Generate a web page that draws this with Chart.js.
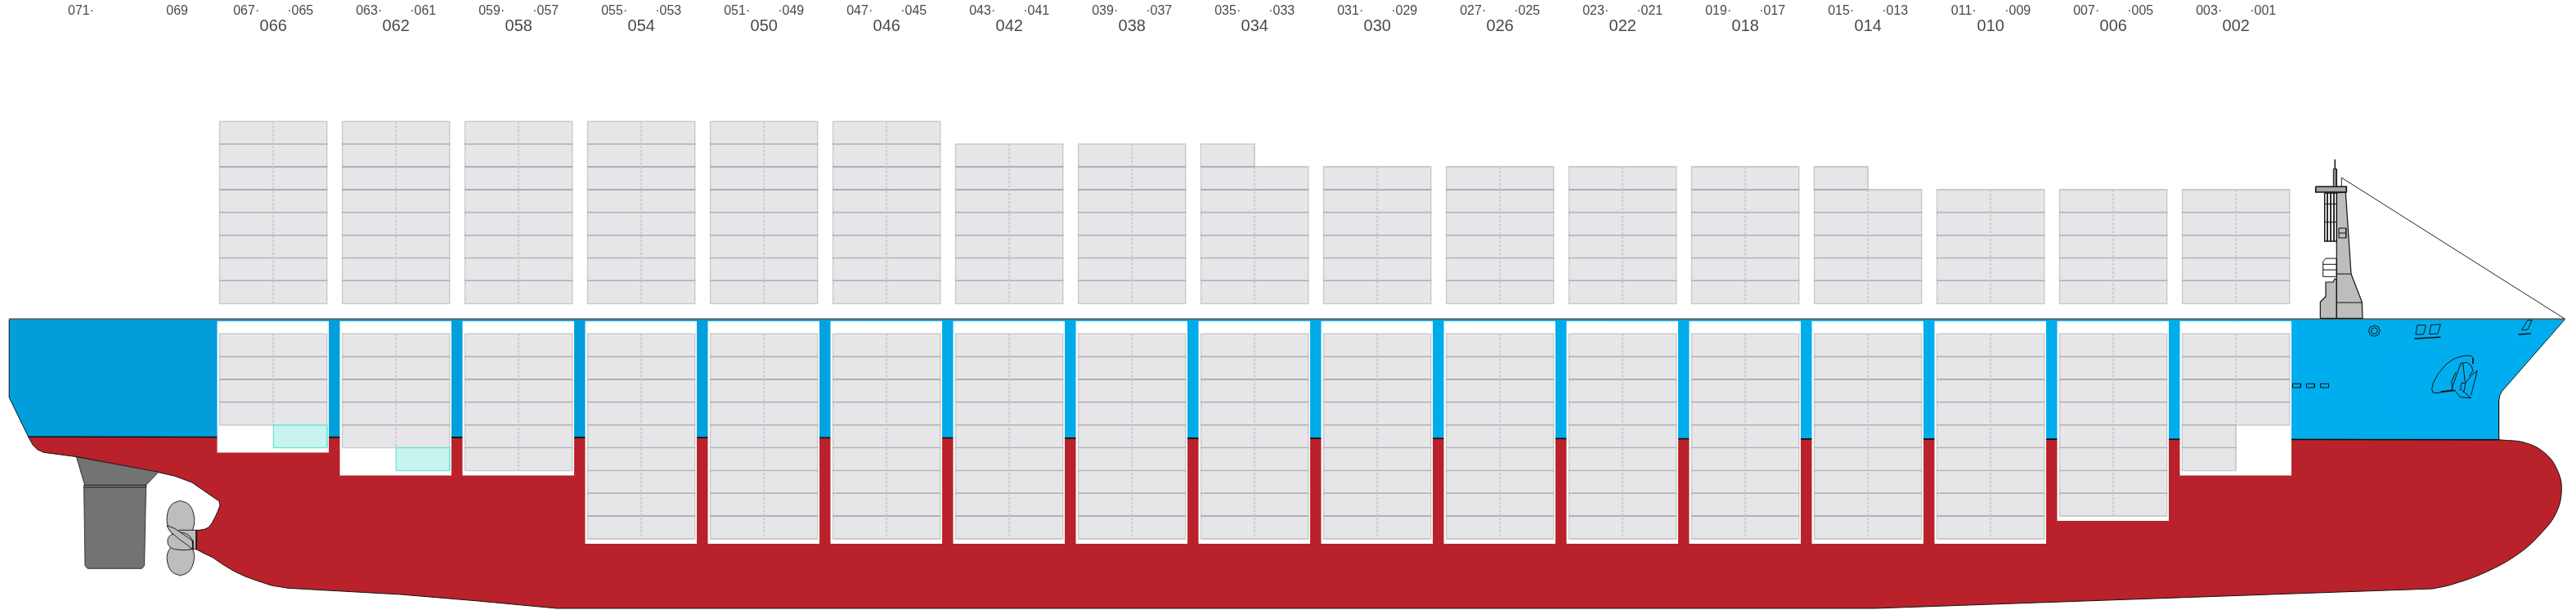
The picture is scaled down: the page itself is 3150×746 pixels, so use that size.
<!DOCTYPE html>
<html>
<head>
<meta charset="utf-8">
<title>Plano de carga</title>
<script src="https://cdn.jsdelivr.net/npm/chart.js@4/dist/chart.umd.min.js"></script>
<style>
  html, body { margin: 0; padding: 0; background: #fff; }
  canvas { display: block; }
</style>
</head>
<body>
<canvas id="grafico" width="3150" height="746"></canvas>
<script>
// Bahias de popa a proa
const bahias = ["066", "062", "058", "054", "050", "046", "042", "038", "034", "030", "026", "022", "018", "014", "010", "006", "002"];
const etiquetasSlots = ["071·", "069", "067·", "·065", "063·", "·061", "059·", "·057", "055·", "·053", "051·", "·049", "047·", "·045", "043·", "·041", "039·", "·037", "035·", "·033", "031·", "·029", "027·", "·025", "023·", "·021", "019·", "·017", "015·", "·013", "011·", "·009", "007·", "·005", "003·", "·001"];

// Filas de contenedores por bahia
const filasCubierta = [8, 8, 8, 8, 8, 8, 7, 7, 6, 6, 6, 6, 6, 5, 5, 5, 5];
const mediaCubierta = [0, 0, 0, 0, 0, 0, 0, 0, 1, 0, 0, 0, 0, 1, 0, 0, 0];
const filasBodega = [4, 5, 6, 9, 9, 9, 9, 9, 9, 9, 9, 9, 9, 9, 9, 8, 4];
const mediaBodega = [0, 0, 0, 0, 0, 0, 0, 0, 0, 0, 0, 0, 0, 0, 0, 0, 2];
const reefersBodega = [1, 1, 0, 0, 0, 0, 0, 0, 0, 0, 0, 0, 0, 0, 0, 0, 0];
const filasPozo = [5, 6, 6, 9, 9, 9, 9, 9, 9, 9, 9, 9, 9, 9, 9, 8, 6];

// Contornos del barco
const casco = [[34.7, 534.3], [3055.6, 537.7], [3060, 600], [2974.7, 720], [2293, 744], [681, 744], [585, 735], [490, 727], [352, 719.3], [332, 716], [316, 710.7], [300, 705], [285.7, 698.3], [272, 690], [260, 681.7], [248, 676], [240, 671.7], [240, 648.3], [244, 648.3], [250, 647.3], [255, 645], [259, 640], [262.8, 633], [266, 626], [269, 618], [268, 613], [234.7, 590], [214, 582.3], [194, 577.7], [153, 570], [94.4, 558.7], [53.6, 553.3], [46, 550], [40, 544], [34.7, 534.3]];
const proa = [[3055.6, 537.7], [3088.7, 541.7], [3113.6, 555.5], [3128, 576.7], [3132.3, 600], [3126, 626.7], [3109.4, 650], [3080.4, 676.7], [3039, 700], [2997.5, 715], [2974.7, 720]];
const obraMuerta = [[11.2, 390.5], [3136.4, 390.5], [3059.7, 478.3], [3057, 483], [3055.6, 490], [3055.6, 537.7], [34.7, 534.3], [11.2, 486], [11.2, 390.5]];
const lineaCubierta = [[11.2, 390.3], [3136.4, 390.3]];
const lineaFlotacion = [[34.7, 534.3], [3055.6, 537.7]];

const timonBase = [[93.4, 558.7], [194, 577.3], [178.6, 593.3], [103.6, 593.3], [93.4, 558.7]];
const timonPala = [[102.6, 596], [178.6, 596], [176.5, 691.7], [173.5, 695.3], [107, 695.3], [104, 691.7], [102.6, 596]];
const timonBisagra = [[102.6, 593.5], [178.6, 593.5], [178.6, 596], [102.6, 596], [102.6, 593.5]];

const helicePalaSup = [[220.4, 612.3], [210, 617], [204.5, 630], [206, 645], [214, 655], [230, 655], [236.5, 645], [237, 630], [231, 617], [220.4, 612.3]];
const helicePalaInf = [[220.4, 704], [210, 699], [204.5, 686], [206, 674], [214, 666], [230, 666], [236.5, 674], [237, 686], [231, 699], [220.4, 704]];
const heliceBuje = [[219, 648.3], [240, 648.3], [240, 671.7], [219, 671.7], [219, 648.3]];
const helicePalaCentro = [[214, 652], [207, 656], [205, 663], [208, 669], [216, 672], [232, 672], [235, 668], [235, 660], [226, 652], [214, 652]];
const helicePalaDiagonal = [[204, 642.7], [213, 646], [225, 654], [235, 661], [236, 671.7], [231, 668], [220, 660], [208, 650], [204, 642.7]];

const torreTrasera = [[2837.3, 389.3], [2837.3, 369.3], [2844, 362.7], [2844, 345], [2853, 345], [2855, 341], [2857.3, 341], [2857.3, 389.3], [2837.3, 389.3]];
const torreProa = [[2857.3, 389.3], [2857.3, 236], [2868.3, 235], [2875, 335], [2888.3, 369.3], [2889, 389.3], [2857.3, 389.3]];
const torreLineas = [[2857.3, 335], [2875, 335], [NaN, NaN], [2857.3, 370], [2888.3, 370]];
const plataforma = [[2831.7, 228.3], [2869.3, 228.3], [2869.3, 235], [2831.7, 235], [2831.7, 228.3]];
const mastil = [[2853.3, 206.7], [2857.3, 206.7], [2857.3, 228.3], [2853.3, 228.3], [2853.3, 206.7]];
const antena = [[2855.3, 195], [2855.3, 206.7]];
const estay = [[2863.3, 228.3], [2863.3, 217.3], [3136.4, 390]];
const ventana = [[2842.7, 236], [2857.3, 236], [2857.3, 295], [2842.7, 295], [2842.7, 236]];
const ventanaLineas = [[2846, 236], [2846, 295], [NaN, NaN], [2850, 236], [2850, 295], [NaN, NaN], [2854, 236], [2854, 295], [NaN, NaN], [2842.7, 249.5], [2857.3, 249.5], [NaN, NaN], [2842.7, 271.7], [2857.3, 271.7]];
const caja = [[2860, 279], [2868.7, 279], [2868.7, 291], [2860, 291], [2860, 279]];
const cajaLinea = [[2860, 285], [2868.7, 285]];
const respiradero = [[2844, 316], [2857.3, 316], [2857.3, 338.3], [2840.7, 338.3], [2840.7, 320], [2844, 316]];
const respiraderoLineas = [[2840.7, 323.3], [2857.3, 323.3], [NaN, NaN], [2840.7, 330], [2857.3, 330]];

const escobenExt = [[2903.4, 398], [2908.4, 399.9], [2910.4, 404.7], [2908.4, 409.5], [2903.4, 411.4], [2898.4, 409.5], [2896.4, 404.7], [2898.4, 399.9], [2903.4, 398]];
const escobenInt = [[2903.4, 400.7], [2906.2, 401.9], [2907.4, 404.7], [2906.2, 407.5], [2903.4, 408.7], [2900.6, 407.5], [2899.4, 404.7], [2900.6, 401.9], [2903.4, 400.7]];
const ventanilla1 = [[2956, 397.7], [2966.4, 397.7], [2963.6, 409], [2954, 409], [2956, 397.7]];
const ventanilla2 = [[2972.7, 397.3], [2984.3, 396.7], [2981, 408], [2970.7, 408.7], [2972.7, 397.3]];
const ventanilla3 = [[3090.8, 391.7], [3096.2, 391.7], [3090.8, 403.3], [3083.7, 403.3], [3090.8, 391.7]];
const subrayado1 = [[2952, 414.3], [2984.3, 412.3]];
const subrayado2 = [[3079.6, 409], [3095, 408]];
const portillos = [[2803.5, 469.3], [2813.4, 469.3], [2813.4, 474], [2803.5, 474], [2803.5, 469.3], [NaN, NaN], [2820.5, 469.3], [2830.4, 469.3], [2830.4, 474], [2820.5, 474], [2820.5, 469.3], [NaN, NaN], [2837.5, 469.3], [2847.5, 469.3], [2847.5, 474], [2837.5, 474], [2837.5, 469.3]];

const anclaNicho = [[2986.7, 479.3], [2980, 480.7], [2975, 480], [2973.7, 476], [2975.3, 468.3], [2981.7, 456.7], [2991.7, 445], [3001.7, 438.3], [3013.3, 435], [3021.7, 435], [3024.3, 438.3], [3024, 445]];
const anclaLineas = [[3009, 444.3], [2997.3, 477.7], [NaN, NaN], [3011.7, 444.3], [3014.3, 466.7], [NaN, NaN], [3009, 444.3], [3016.7, 443.3], [3022.3, 447.7], [3024, 453.3], [3019.3, 460], [NaN, NaN], [3003.3, 455], [2997.7, 466.7], [2999, 475], [NaN, NaN], [3029.3, 453.3], [3022.7, 458.3], [3015, 468.3], [3010, 468.3], [3008.3, 477.7], [NaN, NaN], [3029.3, 453.3], [3021.7, 483.3], [NaN, NaN], [3015, 468.3], [3012.7, 480], [NaN, NaN], [3001.7, 477.3], [3008.3, 485.7], [3021.7, 486.7], [3010, 476.7]];
const anclaBase = [[2985, 479.3], [3001.7, 477.3]];

const ANCHO = 3150;
const ALTO = 746;

// Geometria de la cuadricula en unidades del eje
const pasoBahia = 150;
const centroPrimera = 334.2;
const anchoSlot = 66;
const pasoFila = 27.85;
const baseCubierta = 371.2;
const techoBodega = 408.3;
const techoPozo = 392.7;
const solape = 1;

const centrosBahia = bahias.map((b, i) => centroPrimera + i * pasoBahia);
const posicionesSlots = [99, 216.6];
centrosBahia.forEach((c) => posicionesSlots.push(c - anchoSlot / 2, c + anchoSlot / 2));

function puntos(lista) {
  return lista.map((p) => ({ x: p[0], y: p[1] }));
}

function forma(lista, relleno, linea, grosor, extra) {
  return Object.assign({
    type: "line",
    data: puntos(lista),
    xAxisID: "x",
    yAxisID: "y",
    fill: relleno ? "shape" : false,
    backgroundColor: relleno || "transparent",
    borderColor: linea || "transparent",
    borderWidth: grosor === undefined ? 1 : grosor,
    pointRadius: 0,
    tension: 0,
    clip: false,
    spanGaps: false,
  }, extra);
}

function barras(datos, ancho, relleno, linea, grosor) {
  return {
    type: "bar",
    data: datos,
    xAxisID: "x",
    yAxisID: "y",
    barThickness: ancho,
    grouped: false,
    backgroundColor: relleno,
    borderColor: linea,
    borderWidth: grosor,
    inflateAmount: 0,
    borderSkipped: false,
    clip: false,
  };
}

// Cada celda sobresale un poco para que los bordes semitransparentes se pisen
function celda(x, techo, fila) {
  return { x: x, y: [techo + fila * pasoFila - solape, techo + (fila + 1) * pasoFila + solape] };
}

const celdasCompletas = [];
const celdasMedias = [];
const celdasReefer = [];
const pozos = [];
const divisiones = [];

bahias.forEach((b, i) => {
  const c = centrosBahia[i];
  const techoCubierta = baseCubierta - filasCubierta[i] * pasoFila;

  for (let f = 0; f < filasCubierta[i]; f++) {
    celdasCompletas.push(celda(c, techoCubierta, f));
  }
  for (let f = 1; f <= mediaCubierta[i]; f++) {
    celdasMedias.push(celda(c - anchoSlot / 2, techoCubierta, -f));
  }
  divisiones.push([c, techoCubierta], [c, baseCubierta], [NaN, NaN]);

  for (let f = 0; f < filasBodega[i]; f++) {
    celdasCompletas.push(celda(c, techoBodega, f));
  }
  for (let f = 0; f < mediaBodega[i]; f++) {
    celdasMedias.push(celda(c - anchoSlot / 2, techoBodega, filasBodega[i] + f));
  }
  for (let f = 0; f < reefersBodega[i]; f++) {
    celdasReefer.push(celda(c + anchoSlot / 2, techoBodega, filasBodega[i] + f));
  }
  divisiones.push([c, techoBodega], [c, techoBodega + filasBodega[i] * pasoFila], [NaN, NaN]);

  pozos.push({ x: c - 0.4, y: [techoPozo, techoBodega + filasPozo[i] * pasoFila + 6] });
});

const ctx = document.getElementById("grafico").getContext("2d");

const azul = ctx.createLinearGradient(0, 0, ANCHO, 0);
azul.addColorStop(0, "#009fdb");
azul.addColorStop(0.3, "#009fdc");
azul.addColorStop(0.36, "#00aae8");
azul.addColorStop(1, "#00aeef");

const NEGRO = "#111111";
const GRIS = "#bdbdbd";
const GRIS_TIMON = "#737373";
const ROJO = "#b9222a";
const BORDE_CELDA = "rgba(150, 149, 158, 0.5)";
const RELLENO_CELDA = "#e6e6e8";
const SUAVE = { tension: 0.4 };

// De abajo hacia arriba; se invierte al crear el grafico porque Chart.js dibuja el ultimo primero
const capas = [
  forma(casco, ROJO, NEGRO, 1),
  forma(proa, ROJO, null, 0, SUAVE),
  forma(proa, null, NEGRO, 1, SUAVE),
  forma(obraMuerta, azul, NEGRO, 1),
  forma(lineaFlotacion, null, NEGRO, 1.6),
  forma(lineaCubierta, null, "#56636a", 2),
  barras(pozos, 136.5, "#ffffff", "#ffffff", 0),
  barras(celdasCompletas, 133, RELLENO_CELDA, BORDE_CELDA, 2),
  barras(celdasMedias, 67.5, RELLENO_CELDA, BORDE_CELDA, 2),
  forma(divisiones, null, "#c6c6ca", 1.6, { borderDash: [3, 2] }),
  barras(celdasReefer, 67.5, "#c9f3ef", "#74e3d7", 2),
  forma(timonBase, GRIS_TIMON, NEGRO, 0.8),
  forma(timonBisagra, "#8a8a8a", NEGRO, 0.8),
  forma(timonPala, GRIS_TIMON, NEGRO, 0.8),
  forma(helicePalaSup, GRIS, NEGRO, 0.9, SUAVE),
  forma(helicePalaInf, GRIS, NEGRO, 0.9, SUAVE),
  forma(heliceBuje, GRIS, NEGRO, 0.9),
  forma(helicePalaCentro, GRIS, NEGRO, 0.9, SUAVE),
  forma(helicePalaDiagonal, GRIS, NEGRO, 0.9),
  forma(torreTrasera, GRIS, NEGRO, 1.2),
  forma(torreProa, GRIS, NEGRO, 1.2),
  forma(torreLineas, null, NEGRO, 1),
  forma(ventana, "#ffffff", NEGRO, 1.5),
  forma(ventanaLineas, null, NEGRO, 1),
  forma(caja, GRIS, NEGRO, 1),
  forma(cajaLinea, null, NEGRO, 1),
  forma(respiradero, "#ffffff", NEGRO, 1),
  forma(respiraderoLineas, null, NEGRO, 1),
  forma(plataforma, "#a6a6a6", NEGRO, 1.6),
  forma(mastil, "#8f8f8f", NEGRO, 1),
  forma(antena, null, NEGRO, 1),
  forma(estay, null, "#222222", 1),
  forma(escobenExt, null, NEGRO, 1),
  forma(escobenInt, null, NEGRO, 1),
  forma(ventanilla1, null, NEGRO, 1),
  forma(ventanilla2, null, NEGRO, 1),
  forma(ventanilla3, null, NEGRO, 1),
  forma(subrayado1, null, NEGRO, 1.6),
  forma(subrayado2, null, NEGRO, 1.6),
  forma(portillos, null, NEGRO, 1),
  forma(anclaNicho, null, NEGRO, 1),
  forma(anclaLineas, null, NEGRO, 1),
  forma(anclaBase, null, NEGRO, 2),
];

function ejeSuperior(posiciones, etiquetas, tamano, alto, peso) {
  return {
    type: "linear",
    position: "top",
    min: 0,
    max: ANCHO,
    offset: false,
    weight: peso,
    grid: { display: false, drawTicks: false },
    border: { display: false },
    afterBuildTicks: function (eje) {
      eje.ticks = posiciones.map((v) => ({ value: v }));
    },
    afterFit: function (eje) {
      eje.height = alto;
    },
    ticks: {
      autoSkip: false,
      maxRotation: 0,
      minRotation: 0,
      padding: 0,
      color: "#4a4a4a",
      font: { family: "'Liberation Sans'", size: tamano },
      callback: function (valor) {
        return etiquetas[posiciones.indexOf(valor)];
      },
    },
  };
}

const configuracion = {
  type: "bar",
  data: { datasets: capas.slice().reverse() },
  options: {
    responsive: false,
    animation: false,
    events: [],
    devicePixelRatio: 1,
    layout: { padding: 0 },
    plugins: { legend: { display: false }, tooltip: { enabled: false } },
    scales: {
      x: ejeSuperior(centrosBahia, bahias, 20, 21, 0),
      xSlots: ejeSuperior(posicionesSlots, etiquetasSlots, 16, 23, 1),
      y: {
        type: "linear",
        display: false,
        reverse: true,
        min: 44,
        max: ALTO,
      },
    },
  },
};

new Chart(ctx, configuracion);
</script>
</body>
</html>
